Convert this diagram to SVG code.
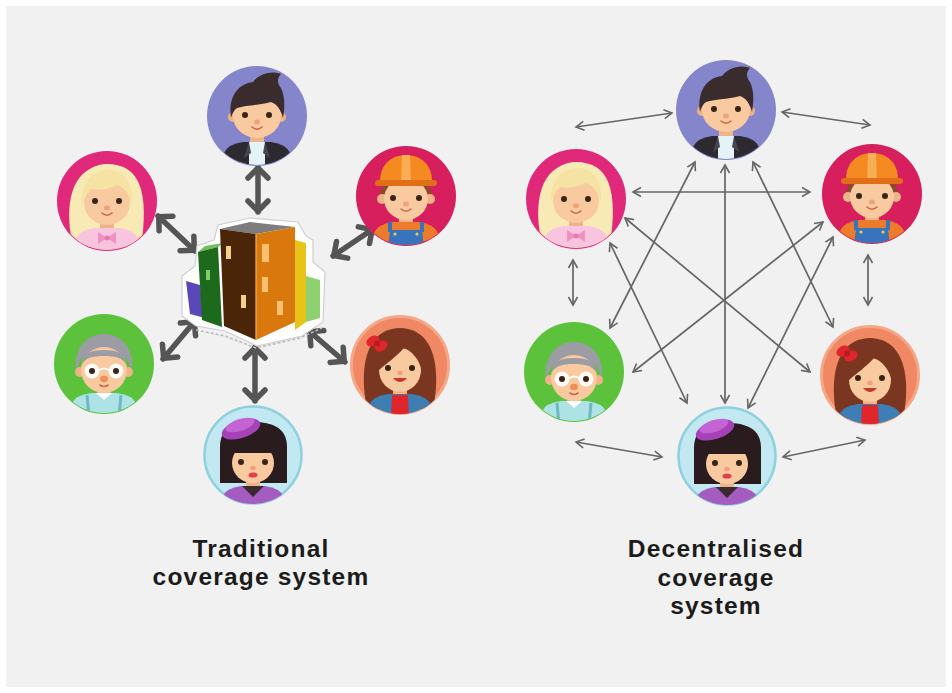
<svg xmlns="http://www.w3.org/2000/svg" xmlns:xlink="http://www.w3.org/1999/xlink" width="952" height="693" viewBox="0 0 952 693">
  <style>
    .eye { fill: #3a2418; }
    .nose { fill: #f0a07a; }
    .smile { fill: none; stroke: #c8664e; stroke-width: 1.6; stroke-linecap: round; }
    .skin { fill: #f9c9a0; }
    .shade { fill: #efb38a; }
    .hub { fill: none; stroke: #555; stroke-width: 5.5; stroke-linecap: round; marker-start: url(#thick); marker-end: url(#thick); }
    .peer { fill: none; stroke: #666; stroke-width: 1.7; marker-start: url(#thin); marker-end: url(#thin); }
    .caption { font-family: "Liberation Sans", Arial, sans-serif; font-weight: 700; font-size: 24.5px; fill: #1c1c1c; text-anchor: middle; letter-spacing: 1.2px; }
  </style>
  <defs>
    <clipPath id="disc"><circle r="49"/></clipPath>
    <marker id="thick" viewBox="-15 -13 17 26" refX="0" refY="0" markerWidth="17" markerHeight="26" markerUnits="userSpaceOnUse" orient="auto-start-reverse">
      <path d="M-11,-10 L-1,0 L-11,10" fill="none" stroke="#555" stroke-width="5.5" stroke-linecap="round" stroke-linejoin="round"/>
    </marker>
    <marker id="thin" viewBox="-11 -7 13 14" refX="0" refY="0" markerWidth="13" markerHeight="14" markerUnits="userSpaceOnUse" orient="auto-start-reverse">
      <path d="M-8,-4.5 L0,0 L-8,4.5" fill="none" stroke="#666" stroke-width="1.6"/>
    </marker>

    <!-- young man, purple backdrop -->
    <g id="av-boy">
      <circle r="50" fill="#8585cc"/>
      <g clip-path="url(#disc)">
        <rect x="-7" y="14" width="14" height="16" class="shade"/>
        <path d="M-36,52 L-33,37 Q-29,28 -14,26 L14,26 Q29,28 33,37 L36,52 Z" fill="#2c2a30"/>
        <path d="M-8,26 L8,26 L8,52 L-8,52 Z" fill="#e4f3f7"/>
        <path d="M-8,26 L-13,42 L-6,37 Z M8,26 L13,42 L6,37 Z" fill="#4a4650"/>
      </g>
      <circle cx="-24" cy="1" r="5" class="shade"/>
      <circle cx="24" cy="1" r="5" class="shade"/>
      <ellipse rx="24" ry="22" class="skin"/>
      <path d="M-26,2 C-29,-18 -20,-32 -4,-34 C2,-42 14,-46 24,-42 C20,-38 20,-33 24,-28 C28,-20 28,-8 26,2 C24,-6 20,-12 14,-14 C4,-11 -10,-11 -20,-8 C-23,-6 -25,-2 -26,2 Z" fill="#3a2b2c"/>
      <circle cx="-12" cy="-1" r="3" class="eye"/>
      <circle cx="12" cy="-1" r="3" class="eye"/>
      <ellipse cx="0" cy="6" rx="3" ry="2.4" class="nose"/>
      <path d="M-5,11 Q0,15.5 5,11" class="smile"/>
    </g>

    <!-- blonde girl, pink backdrop -->
    <g id="av-blonde">
      <circle r="50" fill="#e1297b"/>
      <g clip-path="url(#disc)">
        <path d="M-34,46 C-42,10 -40,-32 -2,-37 C34,-38 42,-8 34,46 Z" fill="#f8eab4"/>
        <rect x="-7" y="14" width="14" height="16" class="shade"/>
        <path d="M-34,52 L-31,38 Q-27,29 -13,27 L13,27 Q27,29 31,38 L34,52 Z" fill="#f9c4de"/>
        <path d="M0,37 L-9,31 L-9,43 Z M0,37 L9,31 L9,43 Z" fill="#ef92c2"/>
        <circle cx="0" cy="37" r="2.5" fill="#e779b2"/>
      </g>
      <ellipse cx="0" cy="2" rx="23" ry="22" class="skin"/>
      <path d="M-25,4 C-27,-20 -12,-32 2,-31 C18,-30 27,-18 25,4 C22,-8 16,-14 10,-16 C2,-12 -8,-10 -16,-12 C-20,-8 -23,-3 -25,4 Z" fill="#f6e3a4"/>
      <circle cx="-12" cy="0" r="3" class="eye"/>
      <circle cx="12" cy="0" r="3" class="eye"/>
      <ellipse cx="0" cy="7" rx="3" ry="2.4" class="nose"/>
      <path d="M-5,12 Q0,16.5 5,12" class="smile"/>
    </g>

    <!-- builder with hard hat, crimson backdrop -->
    <g id="av-builder">
      <circle r="50" fill="#d61f5c"/>
      <g clip-path="url(#disc)">
        <rect x="-7" y="14" width="14" height="16" class="shade"/>
        <path d="M-35,52 L-32,37 Q-28,28 -13,26 L13,26 Q28,28 32,37 L35,52 Z" fill="#ec7b2c"/>
        <path d="M-16,34 L16,34 L18,52 L-18,52 Z" fill="#3874bd"/>
        <rect x="-18" y="26" width="4" height="10" fill="#3874bd"/>
        <rect x="14" y="26" width="4" height="10" fill="#3874bd"/>
        <circle cx="-11" cy="38" r="1.6" fill="#f2c94c"/>
        <circle cx="11" cy="38" r="1.6" fill="#f2c94c"/>
      </g>
      <path d="M-26,8 C-28,-8 -22,-16 0,-16 C22,-16 28,-8 26,8 Z" fill="#8b4a2a"/>
      <circle cx="-24" cy="3" r="5" class="shade"/>
      <circle cx="24" cy="3" r="5" class="shade"/>
      <ellipse cx="0" cy="3" rx="22" ry="21" class="skin"/>
      <path d="M-26,-12 C-27,-33 -13,-41 0,-41 C13,-41 27,-33 26,-12 Z" fill="#f58b20"/>
      <path d="M-4,-41 L4,-41 L5,-13 L-5,-13 Z" fill="#f9ad55"/>
      <rect x="-31" y="-16" width="62" height="6" rx="3" fill="#e06e18"/>
      <circle cx="-13" cy="2" r="3" class="eye"/>
      <circle cx="13" cy="2" r="3" class="eye"/>
      <ellipse cx="0" cy="8" rx="3" ry="2.4" class="nose"/>
      <path d="M-5,13 Q0,17.5 5,13" class="smile"/>
    </g>

    <!-- elderly man with glasses, green backdrop -->
    <g id="av-oldman">
      <circle r="50" fill="#5cc23c"/>
      <g clip-path="url(#disc)">
        <rect x="-7" y="18" width="14" height="14" class="shade"/>
        <path d="M-35,52 L-32,39 Q-28,31 -13,29 L13,29 Q28,31 32,39 L35,52 Z" fill="#aee3e6"/>
        <path d="M-17,31 L-15,52 M17,31 L15,52" stroke="#6fb7c2" stroke-width="3"/>
        <path d="M-8,29 L0,36 L8,29 Z" fill="#ffffff"/>
      </g>
      <path d="M-28,10 C-31,-20 -14,-30 0,-30 C14,-30 31,-20 28,10 C26,-2 22,-8 16,-9 L-16,-9 C-22,-8 -26,-2 -28,10 Z" fill="#9c9ca4"/>
      <circle cx="-24" cy="8" r="5" class="shade"/>
      <circle cx="24" cy="8" r="5" class="shade"/>
      <ellipse cx="0" cy="6" rx="23" ry="23" class="skin"/>
      <path d="M-22,0 C-22,-10 -14,-14 0,-14 C14,-14 22,-10 22,0 C18,-6 12,-8 0,-8 C-12,-8 -18,-6 -22,0 Z" fill="#9c9ca4"/>
      <circle cx="-12" cy="7" r="7.5" fill="#ffffff" fill-opacity="0.9"/>
      <circle cx="12" cy="7" r="7.5" fill="#ffffff" fill-opacity="0.9"/>
      <path d="M-5,6 Q0,3 5,6" fill="none" stroke="#ffffff" stroke-width="2"/>
      <circle cx="-12" cy="7" r="3" class="eye"/>
      <circle cx="12" cy="7" r="3" class="eye"/>
      <ellipse cx="0" cy="15" rx="4" ry="3.2" fill="#f08d5c"/>
      <path d="M-4,21 Q0,24 4,21" class="smile"/>
    </g>

    <!-- girl with red bow, salmon backdrop -->
    <g id="av-bowgirl">
      <circle r="48.5" fill="#ef8863" stroke="#f5a788" stroke-width="3"/>
      <g clip-path="url(#disc)">
        <path d="M-33,44 C-40,10 -38,-36 0,-37 C38,-36 40,10 33,44 Z" fill="#7a3620"/>
        <rect x="-7" y="16" width="14" height="16" class="shade"/>
        <path d="M-34,52 L-31,40 Q-27,31 -12,29 L12,29 Q27,31 31,40 L34,52 Z" fill="#3d7fb5"/>
        <path d="M-8,30 L8,30 L9,52 L-9,52 Z" fill="#e0252b"/>
      </g>
      <ellipse cx="0" cy="5" rx="21" ry="22" class="skin"/>
      <path d="M-22,6 C-24,-18 -10,-30 4,-29 C18,-28 25,-16 22,6 C19,-6 12,-14 4,-17 C-4,-8 -13,-2 -22,6 Z" fill="#7a3620"/>
      <ellipse cx="-27" cy="-24" rx="7" ry="5" transform="rotate(-30 -27 -24)" fill="#e0262a"/>
      <ellipse cx="-19" cy="-19" rx="7" ry="5" transform="rotate(-30 -19 -19)" fill="#e0262a"/>
      <circle cx="-23" cy="-21.5" r="3" fill="#b81c20"/>
      <circle cx="-12" cy="3" r="3" class="eye"/>
      <circle cx="12" cy="3" r="3" class="eye"/>
      <ellipse cx="0" cy="8" rx="2.8" ry="2.2" class="nose"/>
      <path d="M-7,13 Q0,21 7,13 Z" fill="#c23a2c"/>
    </g>

    <!-- girl in purple beret, pale blue backdrop -->
    <g id="av-beret">
      <circle r="48.5" fill="#c2e8f1" stroke="#8fd0df" stroke-width="2.5"/>
      <path d="M-33,28 L-33,-8 C-33,-28 -18,-33 0,-33 C18,-33 34,-28 34,-8 L34,28 Z" fill="#2a1b1e"/>
      <g clip-path="url(#disc)">
        <rect x="-7" y="20" width="14" height="14" class="shade"/>
        <path d="M-34,52 L-31,42 Q-27,33 -12,31 L12,31 Q27,33 31,42 L34,52 Z" fill="#a45cc0"/>
        <path d="M-11,31 L11,31 L0,42 Z" fill="#3a2a30"/>
      </g>
      <ellipse cx="0" cy="8" rx="21" ry="20" class="skin"/>
      <path d="M-27,-2 L-27,-14 C-27,-26 -14,-30 0,-30 C14,-30 27,-26 27,-14 L27,-2 Z" fill="#2a1b1e"/>
      <ellipse cx="-12" cy="-26" rx="20" ry="9" transform="rotate(-18 -12 -26)" fill="#a642b8"/>
      <ellipse cx="-13" cy="-30" rx="15" ry="6" transform="rotate(-18 -13 -30)" fill="#c464d4"/>
      <circle cx="-12" cy="7" r="3" class="eye"/>
      <circle cx="12" cy="7" r="3" class="eye"/>
      <ellipse cx="0" cy="13" rx="2.8" ry="2.2" class="nose"/>
      <ellipse cx="0" cy="20" rx="4.5" ry="2.6" fill="#e0404e"/>
    </g>
  </defs>

  <!-- page -->
  <rect width="952" height="693" fill="#ffffff"/>
  <rect x="6" y="6" width="940" height="681" fill="#f1f1f1"/>

  <!-- connectors -->
  <g id="connectors">
    <!-- hub links around the office block -->
    <line class="hub" x1="258" y1="167" x2="258" y2="212"/>
    <line class="hub" x1="158" y1="216" x2="195" y2="251"/>
    <line class="hub" x1="373" y1="229" x2="333" y2="256"/>
    <line class="hub" x1="195" y1="321" x2="163" y2="359"/>
    <line class="hub" x1="309" y1="331" x2="345" y2="362"/>
    <line class="hub" x1="255" y1="347" x2="255" y2="401"/>

    <!-- peer-to-peer links -->
    <line class="peer" x1="576" y1="127" x2="672" y2="113"/>
    <line class="peer" x1="782" y1="112" x2="870" y2="125"/>
    <line class="peer" x1="633" y1="192" x2="810" y2="192"/>
    <line class="peer" x1="573" y1="260" x2="573" y2="305"/>
    <line class="peer" x1="868" y1="255" x2="868" y2="305"/>
    <line class="peer" x1="576" y1="442" x2="662" y2="457"/>
    <line class="peer" x1="783" y1="457" x2="865" y2="440"/>
    <line class="peer" x1="725" y1="165" x2="725" y2="403"/>
    <line class="peer" x1="695" y1="162" x2="610" y2="328"/>
    <line class="peer" x1="753" y1="162" x2="833" y2="327"/>
    <line class="peer" x1="610" y1="243" x2="687" y2="403"/>
    <line class="peer" x1="625" y1="218" x2="810" y2="372"/>
    <line class="peer" x1="823" y1="222" x2="633" y2="372"/>
    <line class="peer" x1="833" y1="237" x2="748" y2="408"/>
  </g>

  <!-- central office block -->
  <g id="office">
    <path d="M182,276 L195,266 L197,246 L214,240 L218,225 L250,218 L298,222 L306,236 L313,240 L313,262 L325,272 L323,322 L302,336 L257,346 L225,331 L196,326 L182,316 Z" fill="#ffffff" stroke="#cfcfcf" stroke-width="1.2"/>
    <path d="M196,330 L225,336 L256,348 L300,338 L322,328" fill="none" stroke="#b8b8b8" stroke-width="1.5" stroke-dasharray="3 2"/>
    <polygon points="186,281 200,285 205,318 190,314" fill="#5a48b8"/>
    <polygon points="198,252 205,246 223,243 218,247" fill="#6fbf5a"/>
    <polygon points="198,252 218,247 222,327 202,320" fill="#1e6a1c"/>
    <rect x="206" y="270" width="4" height="10" fill="#7fd06a"/>
    <polygon points="295,240 306,243 306,322 295,330" fill="#e8c419"/>
    <polygon points="306,276 320,280 320,318 306,322" fill="#8fd070"/>
    <polygon points="220,229 250,222 295,227 256,234" fill="#7d7d7d"/>
    <polygon points="220,229 256,234 256,340 224,326" fill="#4b2508"/>
    <polygon points="256,234 295,227 295,322 256,340" fill="#d9780c"/>
    <line x1="256" y1="234" x2="256" y2="340" stroke="#f2b35a" stroke-width="1.2"/>
    <rect x="226" y="246" width="5" height="13" fill="#f4d08a"/>
    <rect x="241" y="295" width="5" height="13" fill="#f4d08a"/>
    <rect x="262" y="244" width="7" height="18" fill="#f8c070"/>
    <rect x="262" y="277" width="6" height="15" fill="#f8c070"/>
    <rect x="277" y="301" width="6" height="14" fill="#f8c070"/>
  </g>

  <!-- people around the office block -->
  <g id="hub-man"><use xlink:href="#av-boy" x="257" y="116"/></g>
  <g id="hub-blonde"><use xlink:href="#av-blonde" x="107" y="201"/></g>
  <g id="hub-builder"><use xlink:href="#av-builder" x="406" y="196"/></g>
  <g id="hub-elder"><use xlink:href="#av-oldman" x="104" y="364"/></g>
  <g id="hub-bowgirl"><use xlink:href="#av-bowgirl" x="400" y="365"/></g>
  <g id="hub-beret"><use xlink:href="#av-beret" x="253" y="455"/></g>

  <!-- peers in the ring -->
  <g id="peer-man"><use xlink:href="#av-boy" x="726" y="110"/></g>
  <g id="peer-blonde"><use xlink:href="#av-blonde" x="576" y="199"/></g>
  <g id="peer-builder"><use xlink:href="#av-builder" x="872" y="194"/></g>
  <g id="peer-elder"><use xlink:href="#av-oldman" x="574" y="372"/></g>
  <g id="peer-bowgirl"><use xlink:href="#av-bowgirl" x="870" y="375"/></g>
  <g id="peer-beret"><use xlink:href="#av-beret" x="727" y="456"/></g>

  <!-- captions -->
  <g id="caption-traditional">
    <text class="caption" x="261" y="557">Traditional</text>
    <text class="caption" x="261" y="585">coverage system</text>
  </g>
  <g id="caption-decentralised">
    <text class="caption" x="716" y="557">Decentralised</text>
    <text class="caption" x="716" y="586">coverage</text>
    <text class="caption" x="716" y="614">system</text>
  </g>
</svg>
